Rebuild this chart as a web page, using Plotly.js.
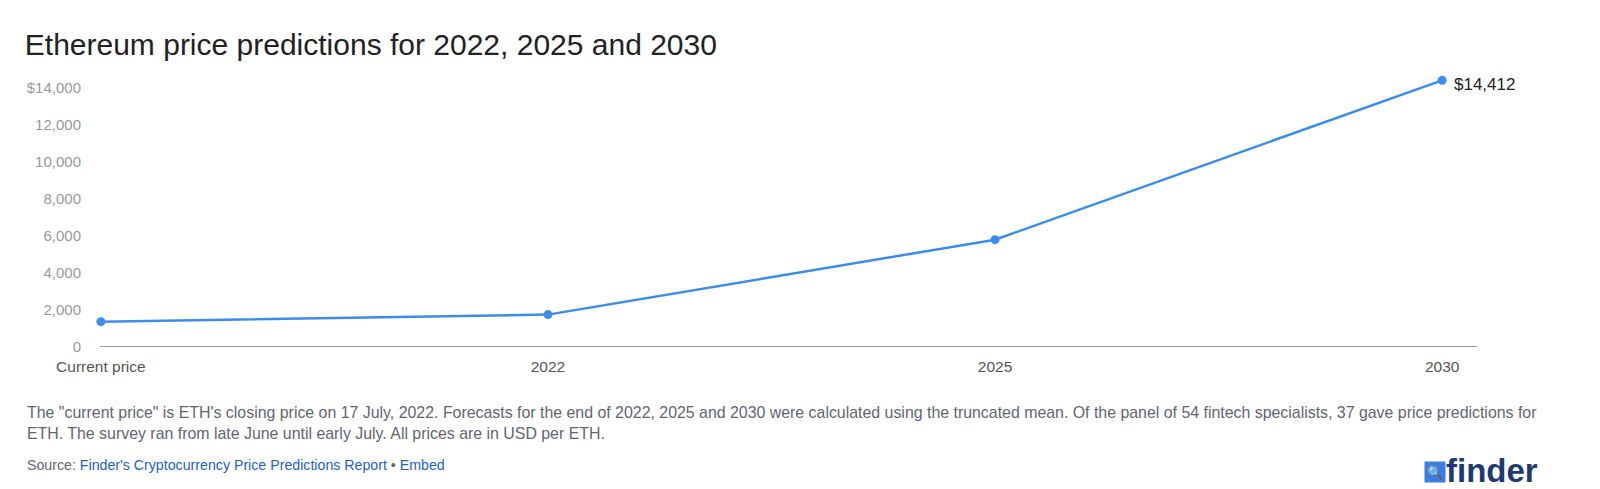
<!DOCTYPE html>
<html>
<head>
<meta charset="utf-8">
<script src="https://cdn.plot.ly/plotly-3.0.1.min.js"></script>
<style>html,body{margin:0;padding:0;overflow:hidden;background:#fff}#chart{width:1600px;height:489px}</style>
</head>
<body>
<div id="chart"></div>
<script>
// Chart data
const categories = ['Current price', '2022', '2025', '2030'];
const prices = [1370, 1750, 5800, 14412];
const yTickVals = [0, 2000, 4000, 6000, 8000, 10000, 12000, 14000];
const yTickText = ['0', '2,000', '4,000', '6,000', '8,000', '10,000', '12,000', '$14,000'];

const BLUE = '#3b8ded';
const FONT = 'Helvetica, Arial, "Liberation Sans", sans-serif';

const trace = {
    x: [0, 1, 2, 3],
    y: prices,
    type: 'scatter',
    mode: 'lines+markers',
    line: { color: BLUE, width: 2.5 },
    marker: { color: BLUE, size: 9 },
    hoverinfo: 'none',
    cliponaxis: false,
};

const note = 'The "current price" is ETH\'s closing price on 17 July, 2022. Forecasts for the end of 2022, 2025 and 2030 were calculated using the truncated mean. Of the panel of 54 fintech specialists, 37 gave price predictions for<br>ETH. The survey ran from late June until early July. All prices are in USD per ETH.';

const layout = {
    width: 1600, height: 489,
    margin: { l: 100, r: 140, t: 70, b: 142 },
    paper_bgcolor: '#fff', plot_bgcolor: '#fff',
    font: { family: FONT },
    showlegend: false,
    title: { text: 'Ethereum price predictions for 2022, 2025 and 2030', x: 0.0155, xanchor: 'left', y: 0.91, yanchor: 'middle',
             font: { size: 30, color: '#222', family: FONT } },
    xaxis: {
        range: [-0.002, 3.04], tickvals: [0, 1, 2, 3], ticktext: categories,
        showgrid: false, zeroline: false, showline: false, ticks: '',
        tickfont: { size: 15.5, color: '#555' }, ticklabelstandoff: 8, fixedrange: true,
    },
    yaxis: {
        range: [0, 14970], tickvals: yTickVals, ticktext: yTickText,
        showgrid: false, zeroline: false, showline: false, ticks: '',
        tickfont: { size: 15, color: '#999' }, ticklabelstandoff: 18, fixedrange: true,
    },
    shapes: [
        { type: 'line', xref: 'paper', yref: 'y', x0: 0, x1: 1.0125, y0: 0, y1: 0, line: { color: '#333', width: 1.2 } },
    ],
    annotations: [
        { x: 3, y: prices[3], xref: 'x', yref: 'y', text: '$14,412', showarrow: false, xanchor: 'left', xshift: 10, yshift: -4,
          font: { size: 17, color: '#222' } },
        { xref: 'paper', yref: 'paper', x: -0.0555, y: -0.2, xanchor: 'left', yanchor: 'top', align: 'left', showarrow: false,
          text: note, font: { size: 15.9, color: '#5f6670' } },
        { xref: 'paper', yref: 'paper', x: -0.0555, y: -0.39, xanchor: 'left', yanchor: 'top', align: 'left', showarrow: false,
          text: 'Source: <a href="#" style="color:#1a5fd0">Finder\'s Cryptocurrency Price Predictions Report</a> • <a href="#" style="color:#1a5fd0">Embed</a>',
          font: { size: 14.2, color: '#5f6670' } },
        { xref: 'paper', yref: 'paper', x: 1.059, y: -0.445, xanchor: 'right', yanchor: 'middle', showarrow: false,
          text: '<b>finder</b>', font: { size: 33, color: '#1e3a73', family: FONT } },
        { xref: 'paper', yref: 'paper', x: 0.9815, y: -0.452, xanchor: 'center', yanchor: 'middle', showarrow: false,
          text: '🔍', bgcolor: '#3b7de0', borderpad: 2, font: { size: 13, color: '#fff' } },
    ],
};

Plotly.newPlot('chart', [trace], layout, { displayModeBar: false, staticPlot: true });
</script>
</body>
</html>
